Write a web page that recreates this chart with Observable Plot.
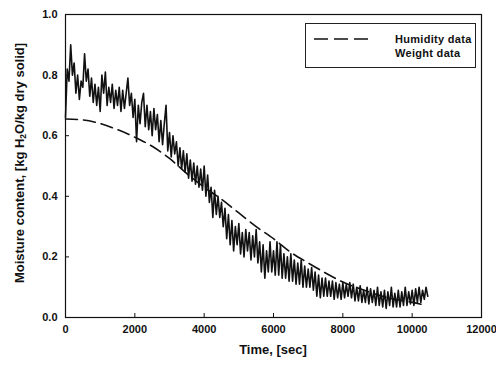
<!DOCTYPE html>
<html>
<head>
<meta charset="utf-8">
<script src="https://cdn.jsdelivr.net/npm/d3@7"></script>
<script src="https://cdn.jsdelivr.net/npm/@observablehq/plot@0.6"></script>
<style>
  html, body { margin: 0; padding: 0; background: #fff; }
  #wrap { position: relative; width: 496px; height: 365px; overflow: hidden; font-family: "Liberation Sans", Arial, sans-serif; font-weight: bold; color: #111; }
  #ylab { position: absolute; left: 20px; top: 163px; transform: translate(-50%, -50%) rotate(-90deg); white-space: nowrap; font-size: 13px; }
  #ylab sub { font-size: 8.5px; vertical-align: -2px; }
  #xlab { position: absolute; left: 273px; top: 349px; transform: translate(-50%, -50%); white-space: nowrap; font-size: 13px; }
  #legend { position: absolute; left: 305px; top: 23px; width: 171px; height: 45px; border: 1px solid #222; box-sizing: border-box; font-size: 11px; letter-spacing: 0.3px; }
  #legend .row { position: absolute; left: 0; width: 169px; height: 14px; line-height: 14px; white-space: nowrap; }
  #legend svg { position: absolute; left: 8px; top: 0; }
  #legend .txt { position: absolute; left: 89px; top: 0; }
</style>
</head>
<body>
<div id="wrap">
  <div id="chart"></div>
  <div id="ylab">Moisture content, [kg H<sub>2</sub>O/kg dry solid]</div>
  <div id="xlab">Time, [sec]</div>
  <div id="legend">
    <div class="row" style="top:8px;"><svg width="60" height="14"><line x1="0" y1="7" x2="60" y2="7" stroke="#111" stroke-width="1.6" stroke-dasharray="14,6"></line></svg><span class="txt">Humidity data</span></div>
    <div class="row" style="top:22px;"><span class="txt">Weight data</span></div>
  </div>
</div>
<script>
// axis ticks
const xTicks = [0, 2000, 4000, 6000, 8000, 10000, 12000];
const yTicks = [0, 0.2, 0.4, 0.6, 0.8, 1.0];

// Humidity data (dashed curve)
const humidityTime = [0, 500, 1000, 1500, 2000, 2500, 3000, 3500, 4000, 4500, 5000, 5500, 6000, 6500, 7000, 7500, 8000, 8500, 9000, 9500, 10000, 10400];
const humidityMoisture = [0.655, 0.652, 0.64, 0.62, 0.595, 0.565, 0.525, 0.475, 0.43, 0.39, 0.345, 0.30, 0.26, 0.215, 0.18, 0.147, 0.117, 0.095, 0.075, 0.06, 0.05, 0.04];

// Weight data (noisy trace), sampled every 50 s from t = 0
const weightStep = 50;
const weightMoisture = [
  0.66, 0.82, 0.78, 0.90, 0.80, 0.84, 0.74, 0.80, 0.72, 0.78,
  0.76, 0.87, 0.78, 0.82, 0.73, 0.79, 0.71, 0.77, 0.70, 0.76,
  0.68, 0.80, 0.74, 0.81, 0.70, 0.76, 0.71, 0.77, 0.69, 0.75,
  0.70, 0.76, 0.68, 0.75, 0.69, 0.74, 0.79, 0.70, 0.74, 0.66,
  0.72, 0.58, 0.70, 0.64, 0.71, 0.74, 0.63, 0.70, 0.62, 0.68,
  0.60, 0.69, 0.62, 0.67, 0.58, 0.65, 0.57, 0.64, 0.70, 0.55,
  0.61, 0.53, 0.60, 0.54, 0.58, 0.50, 0.56, 0.49, 0.55, 0.48,
  0.54, 0.46, 0.52, 0.45, 0.51, 0.44, 0.50, 0.43, 0.49, 0.42,
  0.50, 0.40, 0.47, 0.38, 0.43, 0.33, 0.42, 0.34, 0.40, 0.33,
  0.38, 0.30, 0.36, 0.26, 0.34, 0.24, 0.32, 0.22, 0.30, 0.24,
  0.31, 0.21, 0.28, 0.20, 0.29, 0.22, 0.28, 0.19, 0.27, 0.20,
  0.29, 0.18, 0.25, 0.15, 0.24, 0.13, 0.22, 0.15, 0.25, 0.15,
  0.22, 0.14, 0.25, 0.14, 0.24, 0.13, 0.21, 0.13, 0.20, 0.12,
  0.21, 0.12, 0.19, 0.11, 0.18, 0.11, 0.19, 0.10, 0.17, 0.10,
  0.16, 0.10, 0.165, 0.09, 0.15, 0.07, 0.14, 0.065, 0.13, 0.07,
  0.13, 0.07, 0.12, 0.07, 0.12, 0.06, 0.115, 0.065, 0.11, 0.06,
  0.115, 0.065, 0.11, 0.07, 0.115, 0.065, 0.11, 0.055, 0.10, 0.055,
  0.105, 0.05, 0.09, 0.05, 0.10, 0.045, 0.095, 0.05, 0.09, 0.04,
  0.10, 0.04, 0.085, 0.035, 0.09, 0.03, 0.085, 0.04, 0.10, 0.035,
  0.08, 0.035, 0.09, 0.035, 0.085, 0.04, 0.10, 0.04, 0.085, 0.045,
  0.09, 0.04, 0.095, 0.05, 0.10, 0.05, 0.09, 0.06, 0.10, 0.07
];

const humidity = humidityTime.map((t, i) => ({t, m: humidityMoisture[i]}));
const weight = weightMoisture.map((m, i) => ({t: i * weightStep, m}));

const chart = Plot.plot({
  width: 496,
  height: 365,
  marginLeft: 65,
  marginRight: 15,
  marginTop: 14,
  marginBottom: 48,
  style: {fontFamily: "'Liberation Sans', Arial, sans-serif", fontWeight: "bold", fontSize: "11px", color: "#111", background: "#fff"},
  x: {domain: [0, 12000]},
  y: {domain: [0, 1]},
  marks: [
    Plot.frame({stroke: "#111", strokeWidth: 1.2}),
    Plot.axisX({ticks: xTicks, tickSize: -4, tickPadding: 12, tickFormat: d => String(d), label: null, stroke: "#111"}),
    Plot.axisY({ticks: yTicks, tickSize: -4, tickPadding: 12, tickFormat: d3.format(".1f"), label: null, stroke: "#111"}),
    Plot.line(weight, {x: "t", y: "m", stroke: "#111", strokeWidth: 1.6}),
    Plot.line(humidity, {x: "t", y: "m", stroke: "#111", strokeWidth: 1.6, strokeDasharray: "12,6", curve: "monotone-x"})
  ]
});
document.getElementById("chart").appendChild(chart);
</script>
</body>
</html>
